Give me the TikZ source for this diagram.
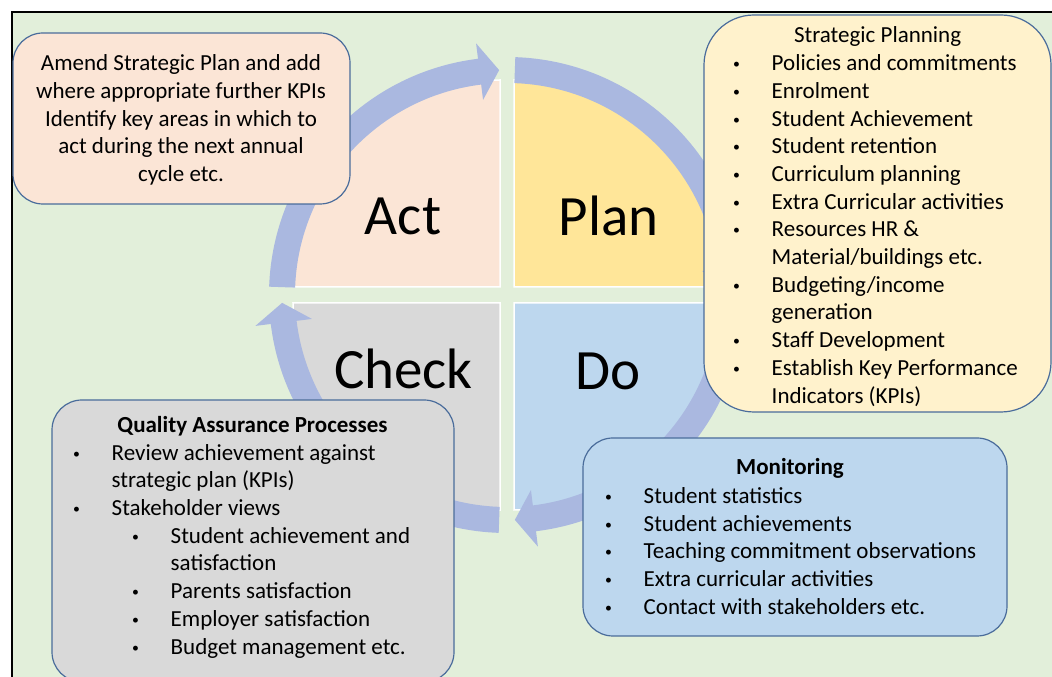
\documentclass[tikz,border=0pt]{standalone}
\usepackage{fontspec}
\setmainfont{Carlito}

\definecolor{bggreen}{HTML}{E2EFDA}
\definecolor{actpink}{HTML}{FBE5D6}
\definecolor{planyellow}{HTML}{FFE699}
\definecolor{checkgray}{HTML}{D9D9D9}
\definecolor{doblue}{HTML}{BDD7EE}
\definecolor{notecream}{HTML}{FFF2CC}
\definecolor{ringblue}{HTML}{AAB8E0}
\definecolor{boxline}{HTML}{4A6C9B}

\tikzset{
    quad/.style={draw=white, line width=1.5pt},
    ringarrow/.style={fill=ringblue},
    callout/.style={draw=boxline, line width=1.2pt, rounded corners=30pt, inner sep=0pt},
    bigword/.style={font=\fontsize{57}{68}\selectfont, anchor=base},
    bodytext/.style={font=\fontsize{23}{27.7}\selectfont, inner sep=0pt},
    headtext/.style={font=\fontsize{23}{27.7}\selectfont\bfseries, inner sep=0pt, anchor=base}
}
\newcommand{\bul}[1]{\makebox[38.5pt][l]{\raisebox{2pt}{\scalebox{0.6}{\textbullet}}}#1}

\begin{document}
\begin{tikzpicture}[x=1pt, y=1pt]
    \useasboundingbox (0,0) rectangle (1052,677);

    % Background and frame
    \fill[white] (0,0) rectangle (1052,677);
    \fill[bggreen] (12,0) rectangle (1052,665);
    \draw[black, line width=1.2pt] (12,0) -- (12,665) -- (1052,665);

    % Four quarter discs
    \filldraw[quad, fill=actpink] (500,390) -- (293,390) arc[start angle=180, end angle=90, radius=207] -- cycle;
    \filldraw[quad, fill=planyellow] (514,390) -- (514,597) arc[start angle=90, end angle=0, radius=207] -- cycle;
    \filldraw[quad, fill=checkgray] (500,374) -- (500,167) arc[start angle=270, end angle=180, radius=207] -- cycle;
    \filldraw[quad, fill=doblue] (514,374) -- (721,374) arc[start angle=0, end angle=-90, radius=207] -- cycle;

    % Circular arrows round the quadrants
    \begin{scope}[shift={(507,382)}]
        \foreach \t in {88,-2,-92,-182} {
            \pgfmathsetmacro{\b}{\t-81}
            \pgfmathsetmacro{\c}{\t-86}
            \fill[ringarrow] (\t:238) arc[start angle=\t, end angle=\b, radius=238]
                -- (\b:253.5) -- (\c:225) -- (\b:196.5) -- (\b:212)
                arc[start angle=\b, end angle=\t, radius=212] -- cycle;
        }
    \end{scope}

    % Quadrant labels
    \node[bigword] (act) at (403,442) {Act};
    \node[bigword] (plan) at (608.5,441) {Plan};
    \node[bigword] (check) at (403.5,288) {Check};
    \node[bigword] (do) at (608.5,287) {Do};

    % Act note
    \node[callout, fill=actpink, minimum width=337pt, minimum height=171pt] (amendbox) at (181.5,558.5) {};
    \node[bodytext, anchor=north, align=center] (amendtext) at (181,625.7)
        {\strut Amend Strategic Plan and add\\ where appropriate further KPIs\\ Identify key areas in which to\\ act during the next annual\\ cycle etc.};

    % Plan note
    \node[callout, rounded corners=50pt, fill=notecream, minimum width=347pt, minimum height=397pt] (planbox) at (877.5,463.5) {};
    \node[bodytext, anchor=base] (plantitle) at (877.6,634.3) {Strategic Planning};
    \node[bodytext, anchor=north west, align=left] (planlist) at (733,625.9)
        {\strut\bul{Policies and commitments}\\ \bul{Enrolment}\\ \bul{Student Achievement}\\
         \bul{Student retention}\\ \bul{Curriculum planning}\\ \bul{Extra Curricular activities}\\
         \bul{Resources HR \&}\\ \hspace*{38.5pt}Material/buildings etc.\\ \bul{Budgeting/income}\\
         \hspace*{38.5pt}generation\\ \bul{Staff Development}\\ \bul{Establish Key Performance}\\
         \hspace*{38.5pt}Indicators (KPIs)};

    % Check note
    \node[callout, fill=checkgray, minimum width=402pt, minimum height=282pt] (qabox) at (253,136) {};
    \node[headtext] (qatitle) at (252.5,244.3) {Quality Assurance Processes};
    \node[bodytext, anchor=north west, align=left] (qalist) at (73,236.4)
        {\strut\bul{Review achievement against}\\ \hspace*{38.5pt}strategic plan (KPIs)\\ \bul{Stakeholder views}\\
         \hspace*{59pt}\bul{Student achievement and}\\ \hspace*{97.5pt}satisfaction\\
         \hspace*{59pt}\bul{Parents satisfaction}\\ \hspace*{59pt}\bul{Employer satisfaction}\\
         \hspace*{59pt}\bul{Budget management etc.}};

    % Do note
    \node[callout, fill=doblue, minimum width=424pt, minimum height=198pt] (monbox) at (795,140) {};
    \node[headtext] (montitle) at (790,202) {Monitoring};
    \node[bodytext, anchor=north west, align=left] (monlist) at (605,193.1)
        {\strut\bul{Student statistics}\\ \bul{Student achievements}\\ \bul{Teaching commitment observations}\\
         \bul{Extra curricular activities}\\ \bul{Contact with stakeholders etc.}};
\end{tikzpicture}
\end{document}
